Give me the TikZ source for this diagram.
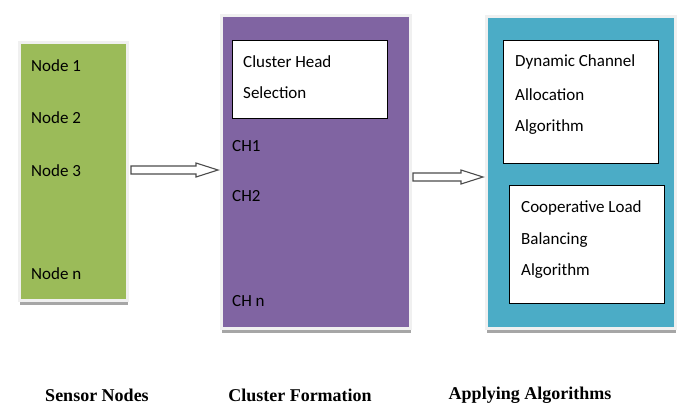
\documentclass[tikz,border=0pt]{standalone}
\usepackage{fontspec}
\setmainfont{Carlito}
\newfontfamily\capfont{Liberation Serif}
\usepackage{tikz}
\usetikzlibrary{arrows.meta,positioning,shadows,calc}
\definecolor{sensorgreen}{HTML}{9BBB59}
\definecolor{clusterpurple}{HTML}{8064A2}
\definecolor{algoteal}{HTML}{4BACC6}
\tikzset{
  stage/.style={draw=black!6, line width=3pt, inner sep=0pt,
    drop shadow={shadow xshift=0pt, shadow yshift=-4pt, fill=black!35, opacity=1}},
  inbox/.style={draw=black, line width=0.8pt, fill=white, inner sep=0pt},
  item/.style={anchor=west, inner sep=0pt, font=\fontsize{17}{20}\selectfont},
  caption/.style={inner sep=0pt, font=\capfont\bfseries\fontsize{18}{21}\selectfont},
  hollow/.style={draw=black!70, line width=1.1pt, fill=white, line join=miter},
}
% hollow block arrow from #1 to #2
\newcommand{\hollowarrow}[2]{%
  \draw[hollow] ($(#1)+(0,-4)$) -- ($(#2)+(-22,-4)$) -- ($(#2)+(-22,-7)$) -- (#2)
    -- ($(#2)+(-22,7)$) -- ($(#2)+(-22,4)$) -- ($(#1)+(0,4)$) -- cycle;}

\begin{document}
\begin{tikzpicture}[x=1pt, y=-1pt]
  \useasboundingbox (0,0) rectangle (681,407);

  % SENSOR NODES
  \node[stage, fill=sensorgreen, minimum width=108pt, minimum height=258pt, anchor=north west] (sensor) at (18,41) {};
  \node[item] (n1) at (31,66) {Node 1};
  \node[item] (n2) at (31,118) {Node 2};
  \node[item] (n3) at (31,171) {Node 3};
  \node[item] (nn) at (31,274) {Node n};

  % CLUSTER FORMATION
  \node[stage, fill=clusterpurple, minimum width=189pt, minimum height=313pt, anchor=north west] (cluster) at (220,14) {};
  \node[inbox, minimum width=155pt, minimum height=78pt, anchor=north west] (chs) at (232,40) {};
  \node[item] (chsa) at (243,62) {Cluster Head};
  \node[item] (chsb) at (243,93) {Selection};
  \node[item] (ch1) at (232,146) {CH1};
  \node[item] (ch2) at (232,196) {CH2};
  \node[item] (chn) at (232,301) {CH n};

  % APPLYING ALGORITHMS
  \node[stage, fill=algoteal, minimum width=189pt, minimum height=312pt, anchor=north west] (algo) at (485,15) {};
  \node[inbox, minimum width=155pt, minimum height=123pt, anchor=north west] (dca) at (503,40) {};
  \node[item] (dcaa) at (515,62) {Dynamic Channel};
  \node[item] (dcab) at (515,95) {Allocation};
  \node[item] (dcac) at (515,127) {Algorithm};
  \node[inbox, minimum width=155pt, minimum height=118pt, anchor=north west] (clb) at (509,185) {};
  \node[item] (clba) at (521,208) {Cooperative Load};
  \node[item] (clbb) at (521,240) {Balancing};
  \node[item] (clbc) at (521,271) {Algorithm};

  % ARROWS
  \coordinate (a1s) at ([xshift=2pt]sensor.east |- 0,170);
  \coordinate (a1e) at ([xshift=-2pt]cluster.west |- 0,170);
  \coordinate (a2s) at ([xshift=1pt]cluster.east |- 0,177);
  \coordinate (a2e) at ([xshift=-2pt]algo.west |- 0,177);
  \hollowarrow{a1s}{a1e}
  \hollowarrow{a2s}{a2e}

  % CAPTIONS
  \node[caption] (capa) at (97,395) {Sensor Nodes};
  \node[caption] (capb) at (300,395) {Cluster Formation};
  \node[caption] (capc) at (530,395) {Applying Algorithms};
\end{tikzpicture}
\end{document}
